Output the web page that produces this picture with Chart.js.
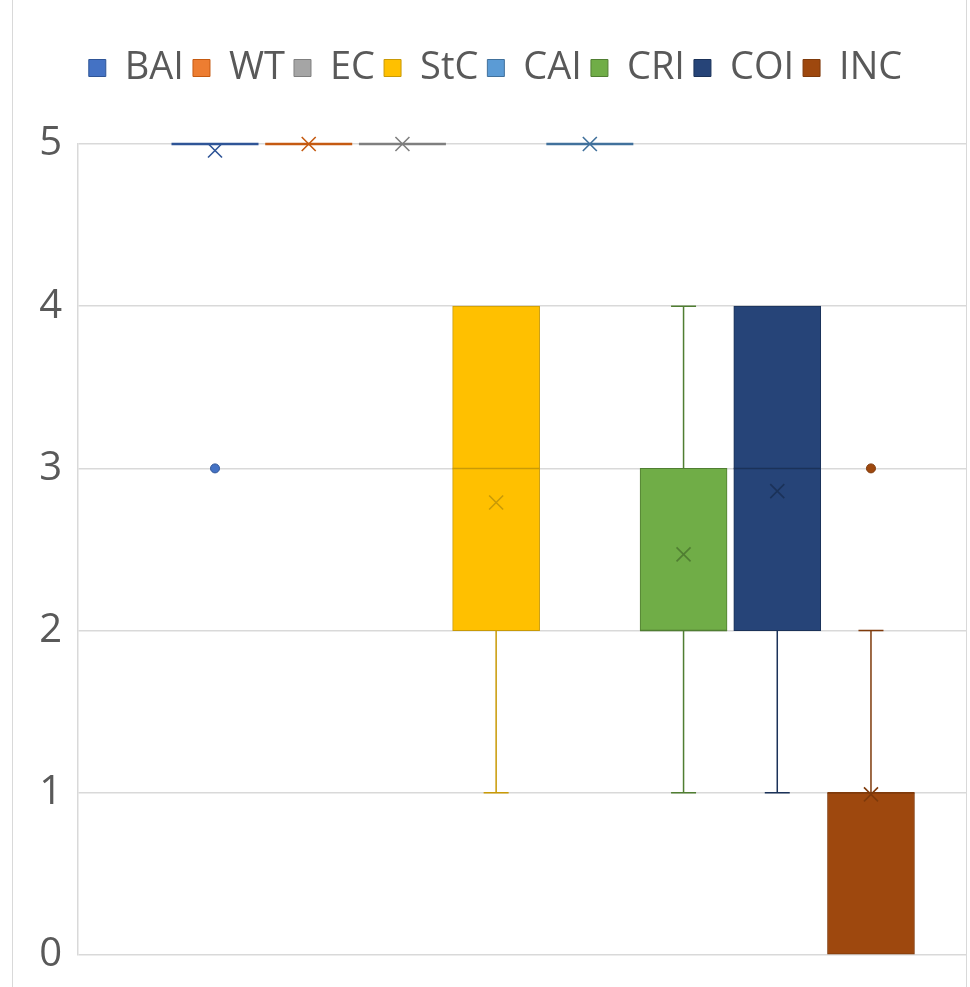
<!DOCTYPE html>
<html>
<head>
<meta charset="utf-8">
<script src="https://cdn.jsdelivr.net/npm/chart.js@4.4.1/dist/chart.umd.min.js"></script>
<style>
  html, body { margin: 0; padding: 0; background: #fff; overflow: hidden; }
  #frame {
    position: absolute; left: 12px; top: 0;
    width: 955px; height: 987px;
    box-sizing: border-box;
    border-left: 1px solid #d9d9d9;
    border-right: 1px solid #d9d9d9;
  }
  #chartjs-0 { display: block; }
</style>
</head>
<body>
<div id="frame"><canvas id="chartjs-0" width="953" height="987"></canvas></div>
<script>
"use strict";

// box plot values
var seriesNames = ["BAI", "WT", "EC", "StC", "CAI", "CRI", "COI", "INC"];
var q1Values = [5, 5, 5, 2, 5, 2, 2, 0];
var q3Values = [5, 5, 5, 4, 5, 3, 4, 1];
var medianValues = [5, 5, 5, 3, 5, 2, 3, 1];
var whiskerLow = [5, 5, 5, 1, 5, 1, 1, 0];
var whiskerHigh = [5, 5, 5, 4, 5, 4, 4, 2];
var meanValues = [4.96, 5, 5, 2.79, 5, 2.47, 2.86, 0.99];
var outlierValues = [[3], [], [], [], [], [], [], [3]];
var yTickValues = [0, 1, 2, 3, 4, 5];

var fillColors = ["#4472C4", "#ED7D31", "#A5A5A5", "#FFC000", "#5B9BD5", "#70AD47", "#264478", "#9E480E"];
var lineColors = ["#2F5597", "#C55A11", "#7F7F7F", "#C99A06", "#41719C", "#507E32", "#1B3259", "#7F3A0B"];

var textColor = "#595959";
var gridColor = "#d9d9d9";
var fontFamily = "'Open Sans', 'Noto Sans', sans-serif";

// whiskers, medians, means and outliers on top of the boxes
var boxExtras = {
    id: "boxExtras",
    afterDatasetsDraw: function (chart) {
        var ctx = chart.ctx;
        var xs = chart.scales.x;
        var ys = chart.scales.y;
        for (var i = 0; i < seriesNames.length; i++) {
            var bar = chart.getDatasetMeta(i).data[0];
            var cx = xs.getPixelForValue(i);
            var half = bar.width / 2;
            var cap = 12.5;
            ctx.save();
            ctx.strokeStyle = lineColors[i];
            ctx.lineWidth = 1.5;

            // whiskers
            var pairs = [[q1Values[i], whiskerLow[i]], [q3Values[i], whiskerHigh[i]]];
            for (var k = 0; k < 2; k++) {
                if (pairs[k][0] !== pairs[k][1]) {
                    var y0 = ys.getPixelForValue(pairs[k][0]);
                    var y1 = ys.getPixelForValue(pairs[k][1]);
                    ctx.beginPath();
                    ctx.moveTo(cx, y0);
                    ctx.lineTo(cx, y1);
                    ctx.moveTo(cx - cap, y1);
                    ctx.lineTo(cx + cap, y1);
                    ctx.stroke();
                }
            }

            // median line
            var my = ys.getPixelForValue(medianValues[i]);
            ctx.lineWidth = (q1Values[i] === q3Values[i]) ? 2.5 : 1.5;
            ctx.beginPath();
            ctx.moveTo(cx - half, my);
            ctx.lineTo(cx + half, my);
            ctx.stroke();

            // mean marker (x)
            var meanY = ys.getPixelForValue(meanValues[i]);
            var s = 7;
            ctx.lineWidth = 1.6;
            ctx.beginPath();
            ctx.moveTo(cx - s, meanY - s);
            ctx.lineTo(cx + s, meanY + s);
            ctx.moveTo(cx + s, meanY - s);
            ctx.lineTo(cx - s, meanY + s);
            ctx.stroke();

            // outliers
            ctx.fillStyle = fillColors[i];
            ctx.lineWidth = 1;
            for (var j = 0; j < outlierValues[i].length; j++) {
                var oy = ys.getPixelForValue(outlierValues[i][j]);
                ctx.beginPath();
                ctx.arc(cx, oy, 4.5, 0, Math.PI * 2);
                ctx.fill();
                ctx.stroke();
            }
            ctx.restore();
        }
    }
};

// extra room between the legend and the plot
var legendGap = {
    id: "legendGap",
    beforeInit: function (chart) {
        var origFit = chart.legend.fit;
        chart.legend.fit = function () {
            origFit.bind(chart.legend)();
            this.height += 47;
        };
    }
};

var datasets = [];
for (var i = 0; i < seriesNames.length; i++) {
    datasets.push({
        label: seriesNames[i],
        data: [{ x: i, y: [q1Values[i], q3Values[i]] }],
        backgroundColor: fillColors[i],
        borderColor: lineColors[i],
        borderWidth: 1,
        borderSkipped: false,
        barThickness: 87,
        grouped: false
    });
}

var ctx = document.getElementById("chartjs-0");
var myChart = new Chart(ctx, {
    type: "bar",
    data: { datasets: datasets },
    plugins: [boxExtras, legendGap],
    options: {
        responsive: false,
        animation: false,
        layout: { padding: { top: 40, left: 12, right: 0, bottom: 32 } },
        plugins: {
            tooltip: { enabled: false },
            legend: {
                position: "top",
                labels: {
                    color: textColor,
                    font: { family: fontFamily, size: 38 },
                    boxWidth: 17,
                    boxHeight: 17,
                    padding: 9
                }
            }
        },
        scales: {
            x: {
                type: "linear",
                display: false,
                offset: false,
                bounds: "ticks",
                min: -1.462,
                max: 8.014
            },
            y: {
                min: 0,
                max: 5,
                afterFit: function (scale) {
                    scale.width = 53;
                    scale.paddingTop = 0;
                    scale.paddingBottom = 0;
                },
                afterBuildTicks: function (scale) {
                    scale.ticks = yTickValues.map(function (v) { return { value: v }; });
                },
                ticks: {
                    color: textColor,
                    font: { family: fontFamily, size: 40 },
                    padding: 16
                },
                grid: { color: gridColor, lineWidth: 1.5, drawTicks: false },
                border: { display: true, color: gridColor, width: 1.5 }
            }
        }
    }
});
</script>
</body>
</html>
